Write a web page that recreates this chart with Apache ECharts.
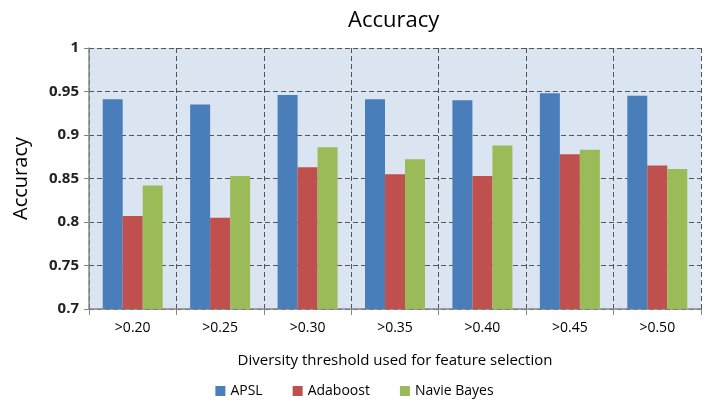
<!DOCTYPE html>
<html>
<head>
<meta charset="utf-8">
<script src="https://cdn.jsdelivr.net/npm/echarts@6/dist/echarts.min.js"></script>
<style>
  html, body { margin: 0; padding: 0; background: #fff; }
  #chart { width: 709px; height: 409px; }
</style>
</head>
<body>
<div id="chart"></div>
<script>
// thresholds on the x axis
const categories = ['>0.20', '>0.25', '>0.30', '>0.35', '>0.40', '>0.45', '>0.50'];
// accuracy per method
const apsl = [0.941, 0.935, 0.946, 0.941, 0.940, 0.948, 0.945];
const adaboost = [0.807, 0.805, 0.863, 0.855, 0.853, 0.878, 0.865];
const navieBayes = [0.842, 0.853, 0.886, 0.872, 0.888, 0.883, 0.861];

const font = '"Open Sans", "Noto Sans", sans-serif';

const chart = echarts.init(document.getElementById('chart'));

const barSeries = (name, data, color) => ({
  name: name,
  type: 'bar',
  data: data,
  barWidth: 20,
  barGap: '0%',
  itemStyle: { color: color }
});

chart.setOption({
  animation: false,
  textStyle: { fontFamily: font },
  title: {
    text: 'Accuracy',
    left: 343,
    top: 5,
    textStyle: { fontSize: 22, fontWeight: 'normal', color: '#000', fontFamily: font }
  },
  grid: {
    left: 89,
    right: 8,
    top: 48,
    bottom: 100,
    show: true,
    backgroundColor: '#dbe5f1',
    borderWidth: 0
  },
  legend: {
    bottom: 6,
    left: 'center',
    itemWidth: 10,
    itemHeight: 10,
    itemGap: 30,
    icon: 'rect',
    textStyle: { fontSize: 14, fontWeight: 500, color: '#000', fontFamily: font }
  },
  xAxis: {
    type: 'category',
    data: categories,
    name: 'Diversity threshold used for feature selection',
    nameLocation: 'middle',
    nameGap: 44,
    nameTextStyle: { fontSize: 15, color: '#000' },
    axisLine: { lineStyle: { color: '#888', width: 1.5 } },
    axisTick: { show: true, length: 6, lineStyle: { color: '#888' } },
    axisLabel: { fontSize: 14, fontWeight: 500, color: '#000', margin: 12 },
    splitLine: { show: true, lineStyle: { color: '#555', type: [5, 3] } }
  },
  yAxis: {
    type: 'value',
    min: 0.7,
    max: 1,
    interval: 0.05,
    name: 'Accuracy',
    nameLocation: 'middle',
    nameGap: 58,
    nameTextStyle: { fontSize: 20, color: '#000' },
    axisLine: { show: true, lineStyle: { color: '#888', width: 1.5 } },
    axisTick: { show: true, length: 5, lineStyle: { color: '#888' } },
    axisLabel: {
      fontSize: 15,
      fontWeight: 'bold',
      color: '#222',
      margin: 10,
      formatter: v => String(Math.round(v * 100) / 100)
    },
    splitLine: { show: true, lineStyle: { color: '#555', type: [5, 3] } }
  },
  series: [
    barSeries('APSL', apsl, '#4a7ebb'),
    barSeries('Adaboost', adaboost, '#c0504d'),
    barSeries('Navie Bayes', navieBayes, '#9bbb59')
  ]
});
</script>
</body>
</html>
